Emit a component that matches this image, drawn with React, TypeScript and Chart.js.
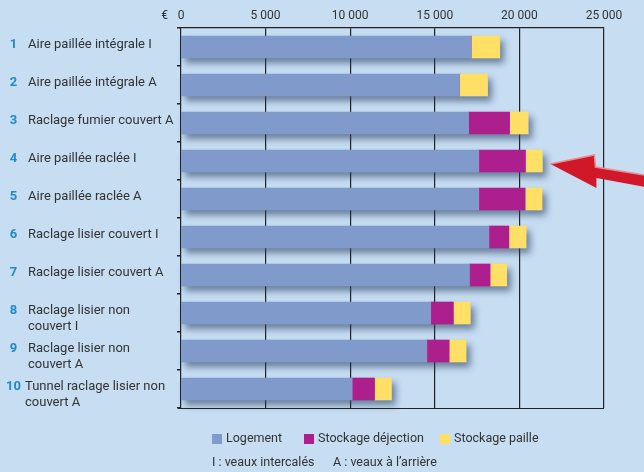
import React, { useEffect, useRef } from "react";
import { Chart, registerables } from "chart.js";

Chart.register(...registerables);

const rowNumbers = ["1", "2", "3", "4", "5", "6", "7", "8", "9", "10"];
const rowLabels: string[][] = [
  ["Aire paillée intégrale I"],
  ["Aire paillée intégrale A"],
  ["Raclage fumier couvert A"],
  ["Aire paillée raclée I"],
  ["Aire paillée raclée A"],
  ["Raclage lisier couvert I"],
  ["Raclage lisier couvert A"],
  ["Raclage lisier non", "couvert I"],
  ["Raclage lisier non", "couvert A"],
  ["Tunnel raclage lisier non", "couvert A"],
];
const logement = [17150, 16450, 17000, 17600, 17600, 18200, 17050, 14760, 14530, 10120];
const stockageDejection = [0, 0, 2420, 2760, 2740, 1180, 1220, 1340, 1320, 1320];
const stockagePaille = [1690, 1670, 1100, 1000, 1000, 1020, 980, 1000, 1000, 1000];
const xTicks = [0, 5000, 10000, 15000, 20000, 25000];
const seriesNames = ["Logement", "Stockage déjection", "Stockage paille"];
const footnote = ["I : veaux intercalés", "A : veaux à l’arrière"];
const highlightedRow = 3;

const BG = "#C6DDF2";
const COLORS = ["#7F9ACB", "#AD1F8C", "#FFDF66"];
const TEXT = "#333333";
const NUM = "#1C8AD0";
const FONT = "Roboto";

function fmt(v: number) {
  if (v === 0) return "0";
  const s = String(v);
  return s.slice(0, s.length - 3) + " " + s.slice(s.length - 3);
}

const decorPlugin = {
  id: "decor",
  beforeDatasetsDraw(chart: any) {
    const { ctx, scales } = chart;
    const xs = scales.x;
    const ys = scales.y;
    ctx.save();
    for (let i = 0; i < logement.length; i++) {
      const total = logement[i] + stockageDejection[i] + stockagePaille[i];
      const cy = ys.getPixelForValue(i);
      const x0 = xs.getPixelForValue(0);
      const x1 = xs.getPixelForValue(total);
      ctx.shadowColor = "rgba(40,60,95,0.6)";
      ctx.shadowBlur = 7;
      ctx.shadowOffsetX = 4;
      ctx.shadowOffsetY = 5;
      ctx.fillStyle = COLORS[0];
      ctx.fillRect(x0, cy - 11, x1 - x0, 22);
    }
    ctx.restore();
  },
  afterDraw(chart: any) {
    const { ctx, scales, chartArea } = chart;
    const xs = scales.x;
    const ys = scales.y;
    ctx.save();
    // bottom axis line
    ctx.strokeStyle = "#222";
    ctx.lineWidth = 1.2;
    ctx.beginPath();
    ctx.moveTo(chartArea.left - 3, chartArea.bottom + 0.5);
    ctx.lineTo(chartArea.right, chartArea.bottom + 0.5);
    ctx.stroke();

    // euro sign
    ctx.fillStyle = TEXT;
    ctx.font = `12px ${FONT}`;
    ctx.textAlign = "center";
    ctx.textBaseline = "middle";
    ctx.fillText("€", 164.5, 16);

    // category labels
    for (let i = 0; i < rowLabels.length; i++) {
      const cy = ys.getPixelForValue(i) - 2;
      ctx.font = `bold 13px ${FONT}`;
      ctx.fillStyle = NUM;
      ctx.textAlign = "center";
      ctx.fillText(rowNumbers[i], 13.5, cy);
      ctx.fillStyle = TEXT;
      ctx.font = `13px ${FONT}`;
      ctx.textAlign = "left";
      const tx = rowNumbers[i].length > 1 ? 25 : 28;
      rowLabels[i].forEach((line, k) => {
        ctx.fillText(line, tx, cy + k * 16);
      });
    }

    // legend
    const lx = [212, 304, 440];
    const ly = 439;
    ctx.font = `12.5px ${FONT}`;
    ctx.textAlign = "left";
    ctx.textBaseline = "middle";
    for (let k = 0; k < seriesNames.length; k++) {
      ctx.fillStyle = COLORS[k];
      ctx.fillRect(lx[k], ly - 5, 10, 10);
      ctx.fillStyle = TEXT;
      ctx.fillText(seriesNames[k], lx[k] + 14, ly);
    }
    const fx = [212, 333];
    for (let k = 0; k < footnote.length; k++) {
      ctx.fillText(footnote[k], fx[k], 463);
    }

    // arrow
    const total = logement[highlightedRow] + stockageDejection[highlightedRow] + stockagePaille[highlightedRow];
    const tipX = xs.getPixelForValue(total) + 8;
    const tipY = ys.getPixelForValue(highlightedRow) + 3;
    const pts: [number, number][] = [
      [tipX, tipY],
      [tipX + 44, tipY - 9],
      [tipX + 45, tipY + 3],
      [tipX + 100, tipY + 12],
      [tipX + 100, tipY + 24],
      [tipX + 46, tipY + 14],
      [tipX + 46, tipY + 24],
    ];
    ctx.beginPath();
    ctx.moveTo(pts[0][0], pts[0][1]);
    for (let k = 1; k < pts.length; k++) ctx.lineTo(pts[k][0], pts[k][1]);
    ctx.closePath();
    ctx.fillStyle = "#D01829";
    ctx.fill();
    ctx.strokeStyle = "#E98A92";
    ctx.lineWidth = 1.5;
    ctx.beginPath();
    ctx.moveTo(pts[0][0], pts[0][1]);
    ctx.lineTo(pts[1][0], pts[1][1]);
    ctx.lineTo(pts[2][0], pts[2][1]);
    ctx.lineTo(pts[3][0], pts[3][1]);
    ctx.stroke();
    ctx.restore();
  },
};

export default function App() {
  const ref = useRef<HTMLCanvasElement | null>(null);
  useEffect(() => {
    if (!ref.current) return;
    const chart = new Chart(ref.current, {
      type: "bar",
      data: {
        labels: rowLabels.map((l) => l.join(" ")),
        datasets: [
          { label: seriesNames[0], data: logement, backgroundColor: COLORS[0], barThickness: 22 },
          { label: seriesNames[1], data: stockageDejection, backgroundColor: COLORS[1], barThickness: 22 },
          { label: seriesNames[2], data: stockagePaille, backgroundColor: COLORS[2], barThickness: 22 },
        ],
      },
      options: {
        indexAxis: "y",
        animation: false,
        responsive: false,
        maintainAspectRatio: false,
        layout: { padding: { top: 0, right: 40, bottom: 64, left: 0 } },
        plugins: { legend: { display: false }, tooltip: { enabled: false } },
        scales: {
          x: {
            position: "top",
            stacked: true,
            min: 0,
            max: 25000,
            afterBuildTicks(scale: any) {
              scale.ticks = xTicks.map((v) => ({ value: v }));
            },
            afterFit(scale: any) {
              scale.height = 28;
            },
            ticks: {
              callback: (v: any) => fmt(Number(v)),
              color: TEXT,
              font: { family: FONT, size: 12 },
              padding: 5,
              maxRotation: 0,
            },
            grid: { color: "#222", lineWidth: 1.2, drawTicks: false },
            border: { display: true, color: "#222", width: 1.2 },
          },
          y: {
            stacked: true,
            afterFit(scale: any) {
              scale.width = 181;
            },
            ticks: { display: false },
            grid: { drawOnChartArea: false, drawTicks: true, tickLength: 4, lineWidth: 1.5, color: "#222", offset: true },
            border: { display: false },
          },
        },
      },
      plugins: [decorPlugin],
    });
    return () => chart.destroy();
  }, []);
  return (
    <div style={{ position: "absolute", left: 0, top: 0, width: 644, height: 472, background: BG, overflow: "hidden" }}>
      <canvas ref={ref} width={644} height={472} style={{ width: 644, height: 472, display: "block" }} />
    </div>
  );
}
